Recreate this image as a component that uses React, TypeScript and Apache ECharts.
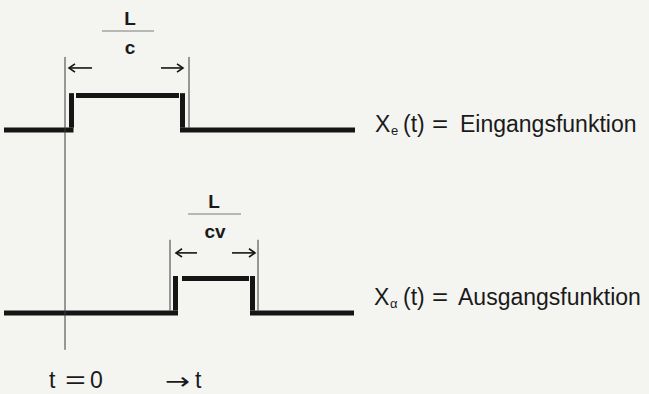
import React, { useEffect, useRef } from "react";
import * as echarts from "echarts";

// time axis (t = 0 at the left guide), amplitude levels
const T_MIN = -6.5;
const T_MAX = 58.4;
const V_MIN = -2.35;
const V_MAX = 9.07;
const INPUT_OFFSET = 5.3;

// input pulse X_e(t): segments [t, amplitude]
const inputSignal: number[][][] = [
  [[-6.1, 0], [0.85, 0]],
  [[0.65, 0.07], [0.65, 1.07]],
  [[1.1, 1], [11.4, 1]],
  [[11.75, 1.07], [11.75, 0.07]],
  [[11.5, 0], [29.0, 0]],
];

// output pulse X_a(t)
const outputSignal: number[][][] = [
  [[-6.1, 0], [11.3, 0]],
  [[11.05, 0.07], [11.05, 1.07]],
  [[11.7, 1], [18.4, 1]],
  [[18.75, 1.07], [18.75, 0.07]],
  [[18.5, 0], [28.9, 0]],
];

// thin guide lines
const guides: number[][][] = [
  [[0, 7.42], [0, -1.07]],
  [[12.4, 7.42], [12.4, 5.37]],
  [[10.5, 2.12], [10.5, 0.07]],
  [[19.3, 2.12], [19.3, 0.07]],
];

// dimension arrows: from -> to at level
const arrowFrom = [2.7, 9.6, 13.2, 16.7];
const arrowTo = [0.4, 11.8, 11.1, 19.0];
const arrowLevel = [7.1, 7.1, 1.74, 1.74];

const INK = "#151515";
const FONT = '"Liberation Sans", Arial, sans-serif';

function seg(data: number[][], width: number, color: string, offset = 0) {
  return {
    type: "line",
    data: data.map((p) => [p[0], p[1] + offset]),
    showSymbol: false,
    symbol: "none",
    silent: true,
    animation: false,
    lineStyle: { width, color, cap: "butt", join: "miter" },
  };
}

export default function App() {
  const ref = useRef<HTMLDivElement>(null);
  useEffect(() => {
    if (!ref.current) return;
    const chart = echarts.init(ref.current, undefined, { renderer: "svg" });
    const series: any[] = [];
    inputSignal.forEach((s) => series.push(seg(s, 5, INK, INPUT_OFFSET)));
    outputSignal.forEach((s) => series.push(seg(s, 5, INK, 0)));
    guides.forEach((g) => series.push(seg(g, 1, "#3a3a3a")));
    arrowFrom.forEach((f, i) => {
      const to = arrowTo[i];
      const y = arrowLevel[i];
      const dir = to > f ? 1 : -1;
      series.push(seg([[f, y], [to, y]], 1.6, INK));
      series.push(
        seg(
          [
            [to - dir * 0.6, y + 0.12],
            [to, y],
            [to - dir * 0.6, y - 0.12],
          ],
          1.6,
          INK
        )
      );
    });

    const txt = (text: string, x: number, y: number, size: number, opts: any = {}) => ({
      type: "text",
      x,
      y,
      scaleX: opts.scaleX || 1,
      silent: true,
      style: {
        text,
        fill: opts.fill || "#1a1a1a",
        font: `${opts.weight || "normal"} ${size}px ${opts.family || FONT}`,
        align: opts.align || "left",
        verticalAlign: "middle",
      },
    });

    chart.setOption({
      animation: false,
      backgroundColor: "#f4f4f1",
      grid: { left: 0, right: 0, top: 0, bottom: 0 },
      xAxis: { type: "value", min: T_MIN, max: T_MAX, show: false },
      yAxis: { type: "value", min: V_MIN, max: V_MAX, show: false },
      series,
      graphic: [
        txt("L", 130, 18, 19, { weight: "bold", align: "center" }),
        { type: "line", shape: { x1: 102, y1: 31, x2: 154, y2: 31 }, style: { stroke: "#7a7a7a", lineWidth: 1 } },
        txt("c", 130, 47, 19, { weight: "bold", align: "center" }),
        txt("L", 214, 201, 19, { weight: "bold", align: "center" }),
        { type: "line", shape: { x1: 188, y1: 214, x2: 241, y2: 214 }, style: { stroke: "#7a7a7a", lineWidth: 1 } },
        txt("cv", 215, 231, 19, { weight: "bold", align: "center" }),
        txt("t", 49, 380, 23),
        txt("=", 65, 380, 23, { scaleX: 1.55 }),
        txt("0", 90, 380, 23),
        txt("→", 165, 381, 23, { family: '"DejaVu Sans", sans-serif', scaleX: 1.3 }),
        txt("t", 195, 380, 23),
        txt("X", 375, 124, 23),
        txt("e", 391, 130, 13),
        txt("(t)", 403, 124, 23),
        txt("=", 432, 124, 23, { scaleX: 1.2 }),
        txt("Eingangsfunktion", 460, 124, 23),
        txt("X", 374, 297, 23),
        txt("α", 390, 303, 13),
        txt("(t)", 403, 297, 23),
        txt("=", 432, 297, 23, { scaleX: 1.2 }),
        txt("Ausgangsfunktion", 458, 297, 23),
      ],
    });
    return () => chart.dispose();
  }, []);
  return (
    <div
      ref={ref}
      style={{ position: "fixed", left: 0, top: 0, width: 649, height: 394 }}
    />
  );
}
